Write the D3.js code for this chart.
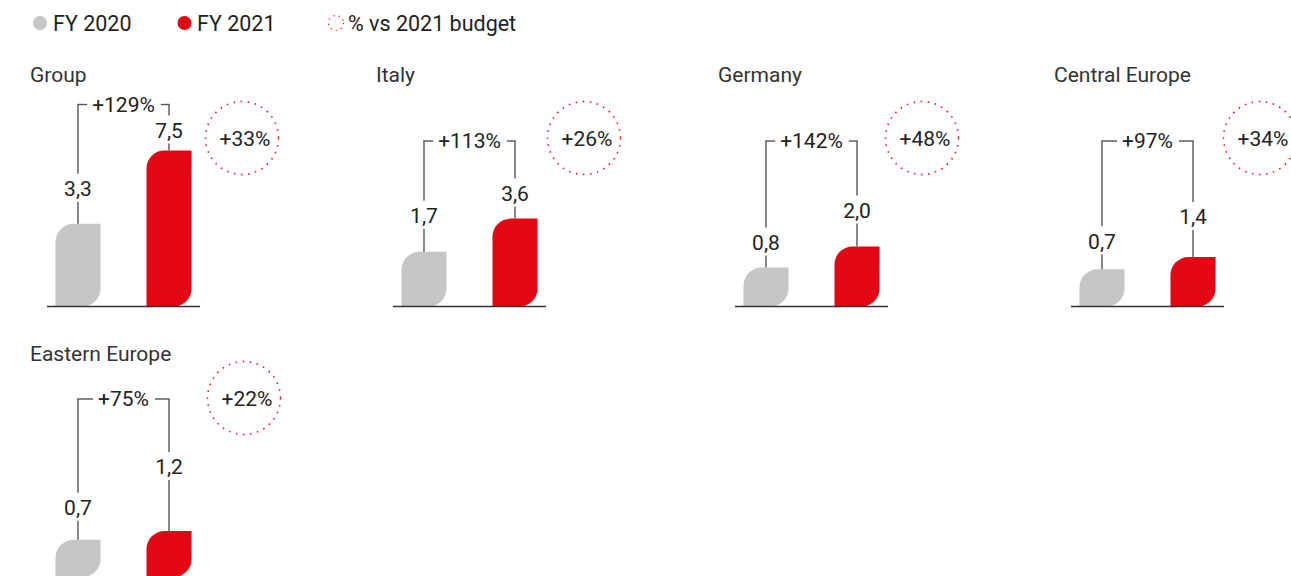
<!DOCTYPE html>
<html>
<head>
<meta charset="utf-8">
<script src="https://cdn.jsdelivr.net/npm/d3@7"></script>
<style>
  html, body { margin: 0; padding: 0; background: #fff; }
  svg { display: block; }
  text { font-family: Roboto, "Open Sans", sans-serif; }
</style>
</head>
<body>
<svg id="chart" width="1291" height="576"></svg>
<script>
// ---- data ----
const regions = ["Group", "Italy", "Germany", "Central Europe", "Eastern Europe"];
const seriesNames = ["FY 2020", "FY 2021"];
const fy2020 = [3.3, 1.7, 0.8, 0.7, 0.7];
const fy2021 = [7.5, 3.6, 2.0, 1.4, 1.2];
const growthLabels = ["+129%", "+113%", "+142%", "+97%", "+75%"];
const budgetLabels = ["+33%", "+26%", "+48%", "+34%", "+22%"];
const legendLabels = ["FY 2020", "FY 2021", "% vs 2021 budget"];

// ---- layout (positions, not data) ----
const panelX = [30, 376, 718, 1054, 30];
const panelRow = [0, 0, 0, 0, 1];
const rows = [
  { titleY: 75, baseY: 306.5, bracketY: 141, circleY: 138 },
  { titleY: 354, baseY: 577, bracketY: 399, circleY: 398 }
];
const circleDx = [212, 208, 204, 206, 214];
const grayLabelGap = [35, 36, 25, 28, 32];
const redLabelGap = [20, 25, 36, 40, 64];

const colors = { gray: "#c6c6c6", red: "#e30613", line: "#555", text: "#222", title: "#333" };

const fmt = v => d3.format(".1f")(v).replace(".", ",");

const svg = d3.select("#chart");

// height scale (bars keep a minimum height for rounded shape)
const hScale = d3.scaleLinear().domain([0, 7.5]).range([25, 156]);
// bar x within a panel
const xBand = d3.scaleBand().domain(seriesNames).range([0, 153]).paddingInner(0.505).paddingOuter(0.093);

function leafPath(x0, y0, w, h, r) {
  r = Math.min(r, h / 2, w / 2);
  return `M${x0},${y0 + r}A${r},${r} 0 0 1 ${x0 + r},${y0}H${x0 + w}V${y0 + h - r}` +
         `A${r},${r} 0 0 1 ${x0 + w - r},${y0 + h}H${x0}Z`;
}

// ---- legend ----
const legend = svg.append("g");
legend.append("circle").attr("cx", 40).attr("cy", 23).attr("r", 7).attr("fill", colors.gray);
legend.append("text").attr("x", 53).attr("y", 23).attr("dy", "0.35em")
  .attr("font-size", 21.5).attr("fill", colors.text).text(legendLabels[0]);
legend.append("circle").attr("cx", 184.5).attr("cy", 23).attr("r", 7).attr("fill", colors.red);
legend.append("text").attr("x", 197).attr("y", 23).attr("dy", "0.35em")
  .attr("font-size", 21.5).attr("fill", colors.text).text(legendLabels[1]);
legend.append("circle").attr("cx", 336).attr("cy", 23).attr("r", 7.5).attr("fill", "none")
  .attr("stroke", colors.red).attr("stroke-width", 1.2).attr("stroke-dasharray", "1.2 4.2");
legend.append("text").attr("x", 348).attr("y", 23).attr("dy", "0.35em")
  .attr("font-size", 21.5).attr("fill", colors.text).text(legendLabels[2]);

// ---- panels ----
regions.forEach((name, i) => {
  const row = rows[panelRow[i]];
  const g = svg.append("g").attr("transform", `translate(${panelX[i]},0)`);
  const bx = 17; // baseline start offset from title

  g.append("text").attr("x", 0).attr("y", row.titleY).attr("dy", "0.35em")
    .attr("font-size", 21).attr("fill", colors.title).text(name);

  const vals = [fy2020[i], fy2021[i]];
  const fills = [colors.gray, colors.red];
  const gaps = [grayLabelGap[i], redLabelGap[i]];
  const info = vals.map((v, k) => {
    const x = bx + xBand(seriesNames[k]);
    const h = hScale(v);
    const top = row.baseY - h;
    return { v, x, w: xBand.bandwidth(), h, top, cx: x + xBand.bandwidth() / 2, labelY: top - gaps[k] };
  });

  info.forEach((d, k) => {
    g.append("path").attr("d", leafPath(d.x, d.top, d.w, d.h, 18)).attr("fill", fills[k]);
  });

  g.append("line").attr("x1", bx).attr("x2", bx + 153)
    .attr("y1", row.baseY).attr("y2", row.baseY)
    .attr("stroke", "#333").attr("stroke-width", 1.5);

  const bracketY = Math.min(row.bracketY, info[1].labelY - 26);

  // value labels + leader lines
  info.forEach(d => {
    g.append("text").attr("x", d.cx).attr("y", d.labelY).attr("dy", "0.35em")
      .attr("text-anchor", "middle").attr("font-size", 21).attr("fill", colors.text).text(fmt(d.v));
    const segs = [[bracketY, d.labelY - 15], [d.labelY + 13, d.top]];
    segs.forEach(s => {
      if (s[1] - s[0] > 0.5) {
        g.append("line").attr("x1", d.cx).attr("x2", d.cx).attr("y1", s[0]).attr("y2", s[1])
          .attr("stroke", colors.line).attr("stroke-width", 1.4);
      }
    });
  });

  // bracket with growth label
  const mid = (info[0].cx + info[1].cx) / 2;
  const gt = g.append("text").attr("x", mid).attr("y", bracketY).attr("dy", "0.35em")
    .attr("text-anchor", "middle").attr("font-size", 21).attr("fill", colors.text).text(growthLabels[i]);
  const tw = gt.node().getComputedTextLength();
  g.append("line").attr("x1", info[0].cx - 0.7).attr("x2", mid - tw / 2 - 5)
    .attr("y1", bracketY).attr("y2", bracketY).attr("stroke", colors.line).attr("stroke-width", 1.4);
  g.append("line").attr("x1", mid + tw / 2 + 6).attr("x2", info[1].cx + 0.7)
    .attr("y1", bracketY).attr("y2", bracketY).attr("stroke", colors.line).attr("stroke-width", 1.4);

  // budget circle
  const ccx = circleDx[i];
  g.append("circle").attr("cx", ccx).attr("cy", row.circleY).attr("r", 36.5)
    .attr("fill", "none").attr("stroke", colors.red).attr("stroke-width", 1.5)
    .attr("stroke-dasharray", "1.5 5.6");
  g.append("text").attr("x", ccx + 3).attr("y", row.circleY + 1).attr("dy", "0.35em")
    .attr("text-anchor", "middle").attr("font-size", 21).attr("fill", colors.text).text(budgetLabels[i]);
});
</script>
</body>
</html>
